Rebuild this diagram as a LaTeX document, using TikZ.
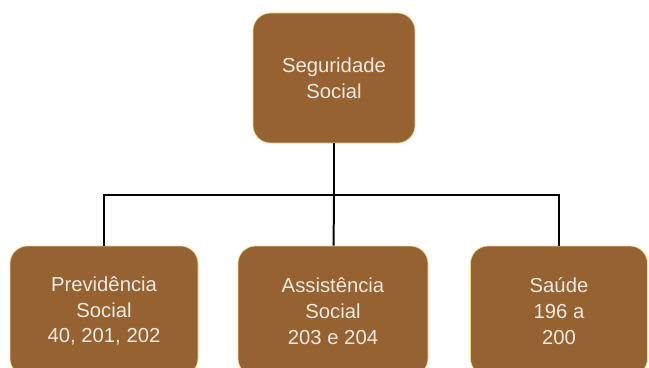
\documentclass[tikz,border=0pt]{standalone}
\usepackage{fontspec}
\setmainfont{Liberation Sans}
\usepackage{xcolor}
\definecolor{boxbrown}{RGB}{150,98,50}
\definecolor{boxedge}{RGB}{240,216,140}
\definecolor{boxtext}{RGB}{242,234,224}

\begin{document}
\begin{tikzpicture}[x=0.03cm,y=-0.03cm]
      \tikzstyle{every node}=[rectangle, rounded corners=15pt, fill=boxbrown, draw=boxedge, line width=0.6pt,
        text=boxtext, align=center, font=\fontsize{17.3}{22}\selectfont, inner sep=0pt]
      \clip (0,0) rectangle (649,368);
      \node[minimum width=162*0.03cm, minimum height=130*0.03cm] (seg) at (334,78) {Seguridade\\Social};
      \node[minimum width=188*0.03cm, minimum height=130*0.03cm] (prev) at (104,311) {Previdência\\Social\\40, 201, 202};
      \node[minimum width=190*0.03cm, minimum height=130*0.03cm] (assist) at (333,311) {Assistência\\Social\\203 e 204};
      \node[minimum width=177*0.03cm, minimum height=130*0.03cm] (saude) at (559,311) {Saúde\\196 a\\200};

      \coordinate (bar) at (334,195);
      \draw[line width=1.7pt] (seg) -- (bar);
      \draw[line width=1.7pt] (bar) -| (prev);
      \draw[line width=1.7pt] (bar) -| (saude);
      \draw[line width=1.7pt] (bar) -- (assist);
    \end{tikzpicture}
\end{document}
